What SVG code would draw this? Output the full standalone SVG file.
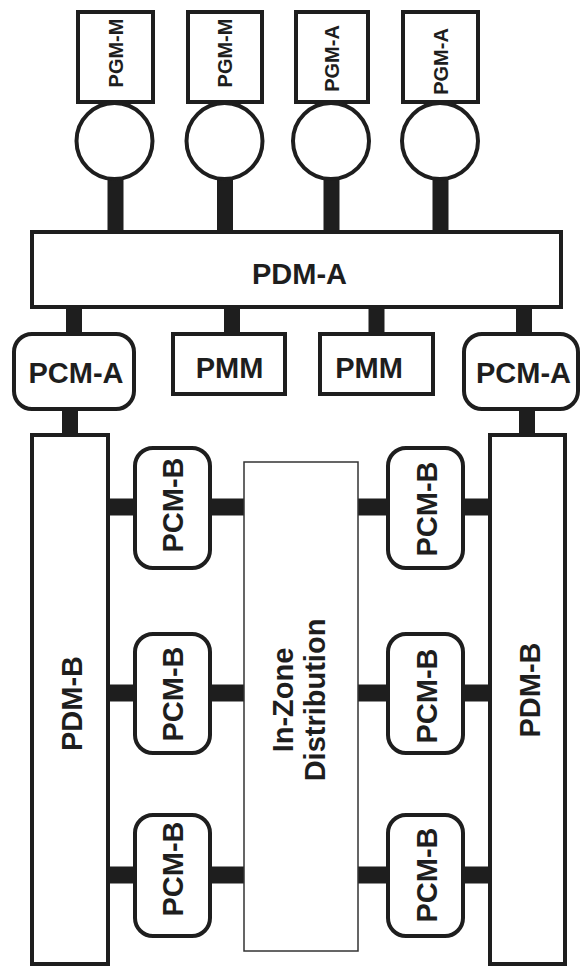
<svg xmlns="http://www.w3.org/2000/svg" width="584" height="968" viewBox="0 0 584 968">
<style>
.b{fill:#fff;stroke:#1e1e1e;stroke-width:4}
.t{fill:#1e1e1e;stroke:none;font-family:"Liberation Sans",Arial,Helvetica,sans-serif;font-weight:bold;text-anchor:middle}
.s{font-size:20px}
.l{font-size:29px}
.c{fill:#1e1e1e;stroke:none}
.z{fill:#fff;stroke:#333;stroke-width:1.5}
</style>
<rect width="584" height="968" fill="#fff"/>
<g id="connectors">
<rect class="c" x="107.5" y="178" width="16" height="55"/>
<rect class="c" x="217" y="178" width="16" height="55"/>
<rect class="c" x="323.5" y="178" width="16" height="55"/>
<rect class="c" x="432.5" y="178" width="16" height="55"/>
<rect class="c" x="66" y="306" width="16" height="30"/>
<rect class="c" x="224" y="306" width="16" height="30"/>
<rect class="c" x="368.5" y="306" width="16" height="30"/>
<rect class="c" x="516" y="306" width="16" height="30"/>
<rect class="c" x="62" y="409" width="16" height="28"/>
<rect class="c" x="519" y="409" width="16" height="28"/>
<rect class="c" x="106" y="498.5" width="31" height="17"/>
<rect class="c" x="208" y="498.5" width="37" height="17"/>
<rect class="c" x="357" y="498.5" width="33" height="17"/>
<rect class="c" x="461" y="498.5" width="31" height="17"/>
<rect class="c" x="106" y="684.5" width="31" height="17"/>
<rect class="c" x="208" y="684.5" width="37" height="17"/>
<rect class="c" x="357" y="684.5" width="33" height="17"/>
<rect class="c" x="461" y="684.5" width="31" height="17"/>
<rect class="c" x="106" y="866.5" width="31" height="17"/>
<rect class="c" x="208" y="866.5" width="37" height="17"/>
<rect class="c" x="357" y="866.5" width="33" height="17"/>
<rect class="c" x="461" y="866.5" width="31" height="17"/>
</g>
<g id="pgm1"><rect class="b" x="78" y="12" width="75" height="90"/><text class="t s" transform="translate(122.5,53) rotate(-90)">PGM-M</text></g>
<g id="pgm2"><rect class="b" x="188" y="12" width="74" height="90"/><text class="t s" transform="translate(232,53) rotate(-90)">PGM-M</text></g>
<g id="pgm3"><rect class="b" x="296" y="12" width="72" height="90"/><text class="t s" transform="translate(339,58.5) rotate(-90)">PGM-A</text></g>
<g id="pgm4"><rect class="b" x="403" y="12" width="75" height="90"/><text class="t s" transform="translate(447.5,61.5) rotate(-90)">PGM-A</text></g>
<g id="gen1"><circle class="b" cx="114.5" cy="141" r="38"/></g>
<g id="gen2"><circle class="b" cx="224.5" cy="141" r="38"/></g>
<g id="gen3"><circle class="b" cx="331" cy="141" r="38"/></g>
<g id="gen4"><circle class="b" cx="440" cy="141" r="38"/></g>
<g id="pdma"><rect class="b" x="32" y="232" width="529" height="75"/><text class="t l" x="299.5" y="284">PDM-A</text></g>
<g id="pcma1"><rect class="b" x="14" y="334" width="120" height="75" rx="18"/><text class="t l" x="76" y="383">PCM-A</text></g>
<g id="pmm1"><rect class="b" x="173" y="334" width="112" height="60"/><text class="t l" x="229.5" y="378">PMM</text></g>
<g id="pmm2"><rect class="b" x="320" y="334" width="113" height="60"/><text class="t l" x="369" y="378">PMM</text></g>
<g id="pcma2"><rect class="b" x="464" y="334" width="114" height="75" rx="18"/><text class="t l" x="523.5" y="383">PCM-A</text></g>
<g id="pdmb1"><rect class="b" x="32" y="435" width="76" height="529"/><text class="t l" transform="translate(82,703.5) rotate(-90)">PDM-B</text></g>
<g id="pdmb2"><rect class="b" x="490" y="435" width="75" height="529"/><text class="t l" transform="translate(540,690) rotate(-90)">PDM-B</text></g>
<g id="inzone"><rect class="z" x="244" y="462" width="114" height="489"/><text class="t l" transform="translate(293,700) rotate(-90)">In-Zone</text><text class="t l" transform="translate(325,700) rotate(-90)">Distribution</text></g>
<g id="pcmb1"><rect class="b" x="135" y="448" width="75" height="120" rx="18"/><text class="t l" transform="translate(183,505) rotate(-90)">PCM-B</text></g>
<g id="pcmb2"><rect class="b" x="135" y="634" width="75" height="119" rx="18"/><text class="t l" transform="translate(183,694) rotate(-90)">PCM-B</text></g>
<g id="pcmb3"><rect class="b" x="135" y="815" width="75" height="121" rx="18"/><text class="t l" transform="translate(183,869) rotate(-90)">PCM-B</text></g>
<g id="pcmb4"><rect class="b" x="388" y="448" width="75" height="120" rx="18"/><text class="t l" transform="translate(437,509) rotate(-90)">PCM-B</text></g>
<g id="pcmb5"><rect class="b" x="388" y="634" width="75" height="119" rx="18"/><text class="t l" transform="translate(437,696) rotate(-90)">PCM-B</text></g>
<g id="pcmb6"><rect class="b" x="388" y="815" width="75" height="121" rx="18"/><text class="t l" transform="translate(437,875) rotate(-90)">PCM-B</text></g>
</svg>
